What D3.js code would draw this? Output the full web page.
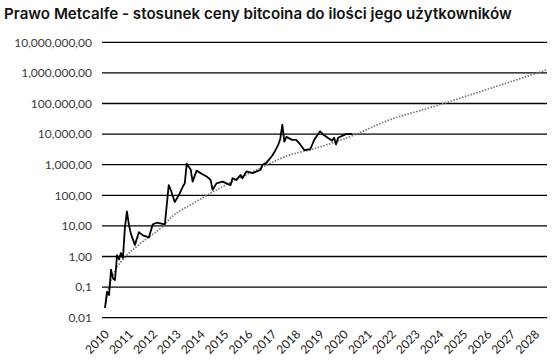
<!DOCTYPE html>
<html>
<head>
<meta charset="utf-8">
<script src="https://cdn.jsdelivr.net/npm/d3@7"></script>
<style>
	html, body { margin: 0; padding: 0; background: #fff; }
	svg { display: block; }
</style>
</head>
<body>
<svg width="554" height="360"></svg>
<script>
'use strict';

const title = "Prawo Metcalfe - stosunek ceny bitcoina do ilości jego użytkowników";

// bitcoin price (monthly points)
const priceDates = ["2010-07","2010-08","2010-09","2010-10","2010-11","2010-12","2011-01","2011-02","2011-03","2011-04",
	"2011-05","2011-06","2011-07","2011-08","2011-10","2011-12","2012-02","2012-05","2012-07","2012-09",
	"2013-01","2013-03","2013-04","2013-06","2013-08","2013-10","2013-11","2013-12","2014-02","2014-03",
	"2014-05","2014-07","2014-10","2014-12","2015-01","2015-03","2015-06","2015-10","2015-11","2016-01",
	"2016-03","2016-04","2016-06","2016-09","2017-01","2017-02","2017-04","2017-07","2017-08","2017-10",
	"2017-11","2017-12","2018-01","2018-02","2018-05","2018-07","2018-09","2018-11","2019-02","2019-04",
	"2019-07","2019-09","2019-11","2020-01","2020-02","2020-03","2020-04","2020-08","2020-11"];
const priceValues = [0.021, 0.07, 0.055, 0.37, 0.19, 0.17, 1.1, 0.8, 1.3, 0.9,
	8.8, 30, 11, 5.5, 2.4, 6.2, 4.9, 4.2, 11.3, 12.7,
	11.3, 215, 150, 60, 100, 190, 245, 1080, 680, 280,
	640, 530, 410, 320, 150, 245, 280, 215, 360, 320,
	460, 360, 600, 530, 680, 1000, 1150, 2000, 2530, 4560,
	7200, 20400, 5700, 8100, 6500, 6500, 4600, 3000, 3200, 6400,
	12300, 9100, 7400, 6100, 7600, 4600, 7600, 10000, 10200];

// Metcalfe trend (dotted)
const trendDates = ["2010-07","2010-09","2010-12","2011-05","2011-10","2012-05","2012-11","2013-05","2014-03",
	"2015-03","2017-01","2018-03","2019-03","2021-02","2022-01","2024-07","2029-01"];
const trendValues = [0.022, 0.1, 0.33, 0.93, 1.9, 4.3, 8.5, 21, 53,
	150, 780, 2000, 3200, 10500, 22000, 91000, 1270000];

const years = d3.range(2010, 2029);
const yTicks = [0.01, 0.1, 1, 10, 100, 1000, 10000, 100000, 1000000, 10000000];
const yTickLabels = ["0,01", "0,1", "1,00", "10,00", "100,00", "1,000,00", "10,000,00",
	"100,000,00", "1,000,000,00", "10,000,000,00"];

const svg = d3.select("svg");
const parse = d3.timeParse("%Y-%m");
const plotLeft = 102, plotRight = 547;

const x = d3.scaleTime()
	.domain([new Date(2010, 6, 1), new Date(2028, 6, 1)])
	.range([105, 535.2]);
const y = d3.scaleLog()
	.domain([0.01, 10000000])
	.range([317.7, 42.3]);

// title
const t = svg.append("text")
	.attr("x", 4)
	.attr("y", 19)
	.attr("font-family", "Inter, 'Noto Sans', sans-serif")
	.attr("font-weight", 600)
	.attr("font-size", 18)
	.attr("fill", "#111")
	.text(title);
const tw = t.node().getComputedTextLength();
t.attr("font-size", 18 * 508 / tw);

// gridlines + y labels
const grid = svg.append("g");
grid.selectAll("line")
	.data(yTicks)
	.enter().append("line")
	.attr("x1", plotLeft)
	.attr("x2", plotRight)
	.attr("y1", d => y(d))
	.attr("y2", d => y(d))
	.attr("stroke", "#000")
	.attr("stroke-width", 1.3);

grid.selectAll("text")
	.data(yTicks)
	.enter().append("text")
	.attr("x", 92)
	.attr("y", d => y(d))
	.attr("dy", "0.35em")
	.attr("text-anchor", "end")
	.attr("font-family", "Lato, 'Noto Sans', sans-serif")
	.attr("font-size", 12)
	.attr("fill", "#3a3a3a")
	.text((d, i) => yTickLabels[i]);

// x labels, rotated
svg.append("g")
	.selectAll("text")
	.data(years)
	.enter().append("text")
	.attr("transform", d => "translate(" + (x(new Date(d, 6, 1)) + 5) + ",335) rotate(-45)")
	.attr("text-anchor", "end")
	.attr("font-family", "Lato, 'Noto Sans', sans-serif")
	.attr("font-size", 12)
	.attr("fill", "#1a1a1a")
	.text(d => d);

// trend
const trend = trendDates.map((d, i) => ({ date: parse(d), value: trendValues[i] }));
svg.append("path")
	.datum(trend)
	.attr("fill", "none")
	.attr("stroke", "#777")
	.attr("stroke-width", 1.7)
	.attr("stroke-dasharray", "1.5,1.5")
	.attr("d", d3.line().curve(d3.curveMonotoneX).x(d => x(d.date)).y(d => y(d.value)));

// price
const price = priceDates.map((d, i) => ({ date: parse(d), value: priceValues[i] }));
svg.append("path")
	.datum(price)
	.attr("fill", "none")
	.attr("stroke", "#000")
	.attr("stroke-width", 1.8)
	.attr("stroke-linejoin", "round")
	.attr("d", d3.line().x(d => x(d.date)).y(d => y(d.value)));
</script>
</body>
</html>
